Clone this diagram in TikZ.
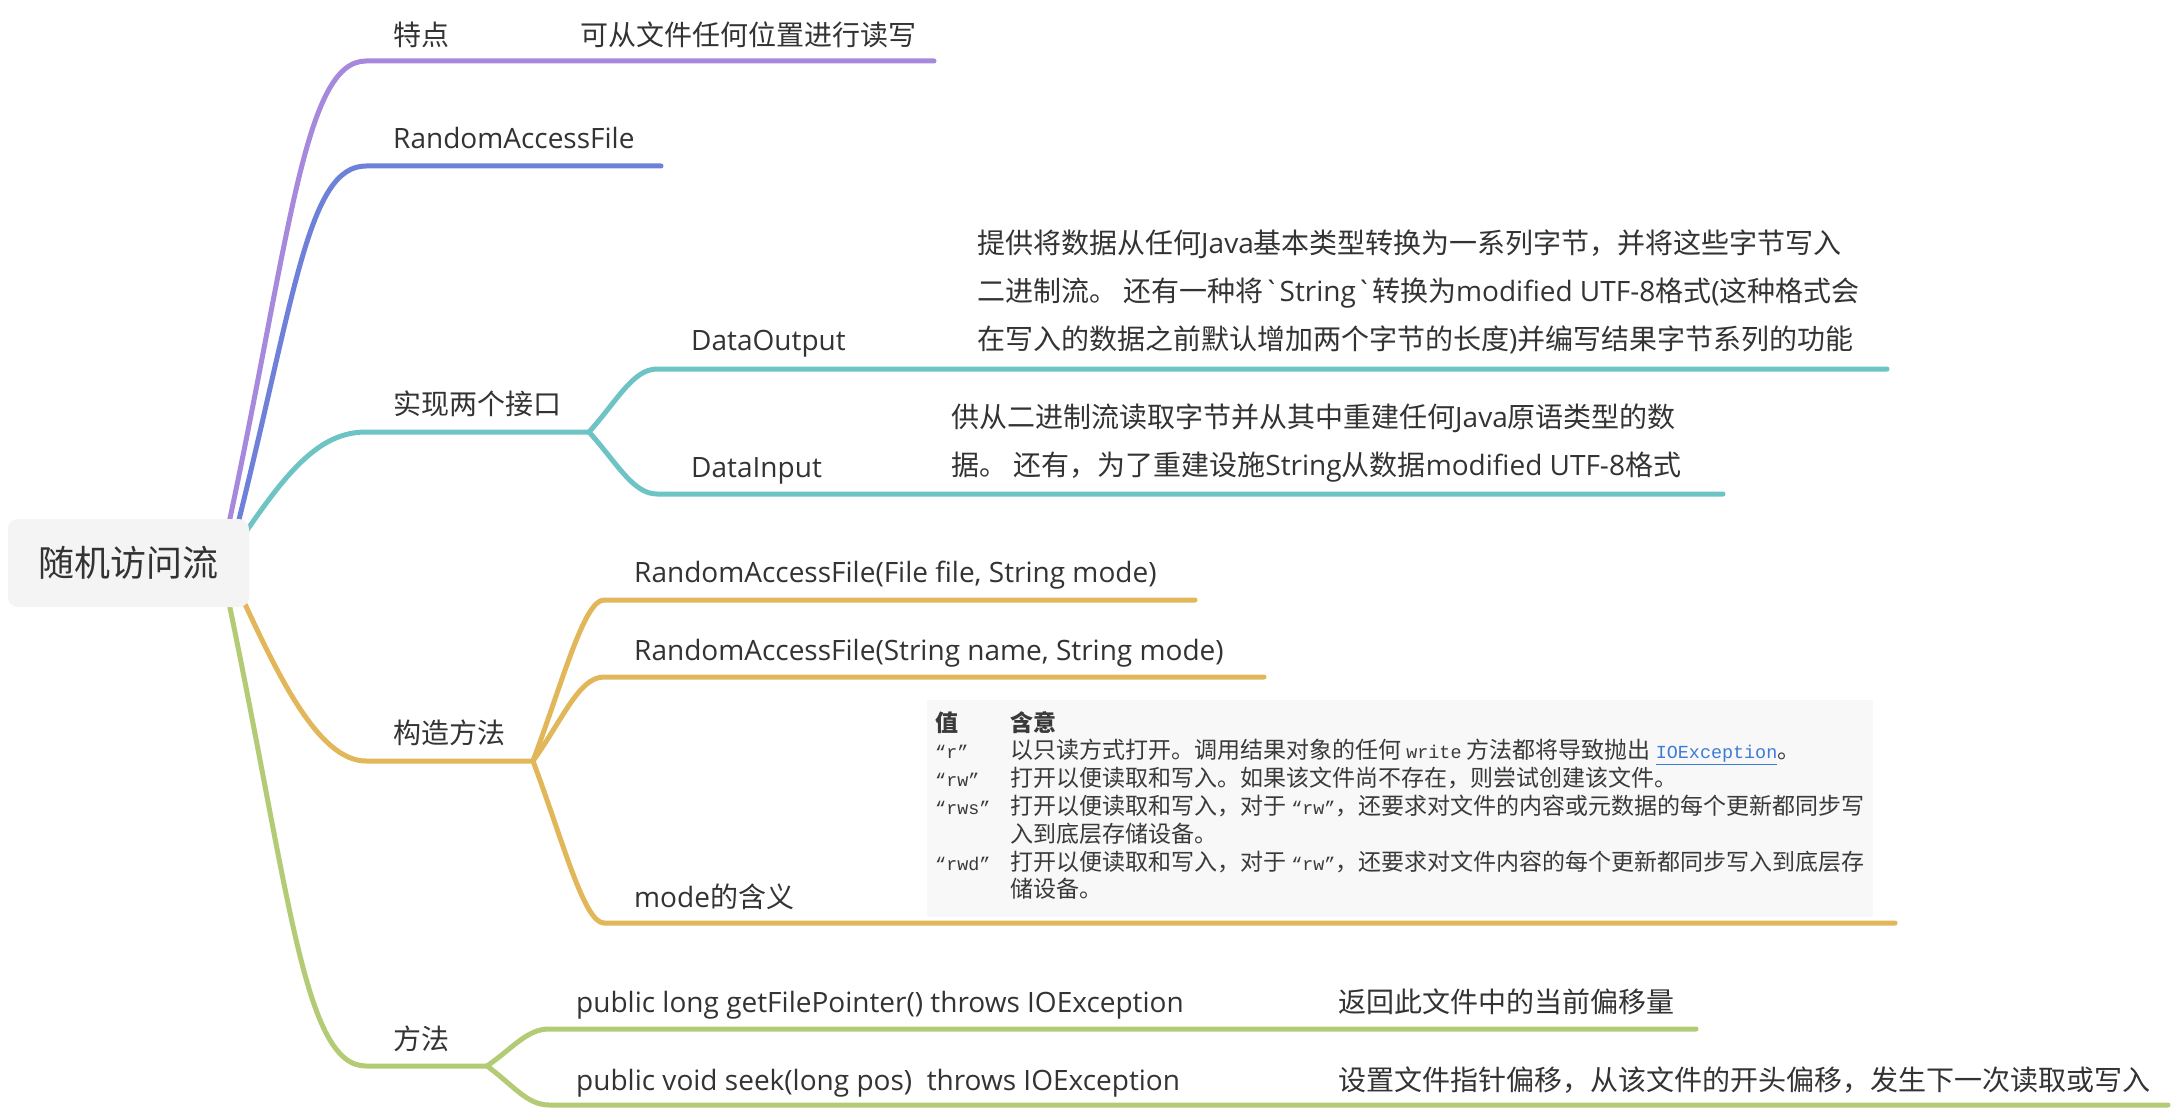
\documentclass[tikz,border=0pt]{standalone}
\usepackage{fontspec}
\setmainfont{Noto Sans CJK SC}
\newfontfamily\latin{Open Sans}
\setmonofont{Liberation Mono}[Scale=0.8]
\usepackage{tikz}
\usetikzlibrary{positioning, backgrounds, calc}
\definecolor{ink}{HTML}{333333}
\definecolor{feat}{HTML}{A689DC}
\definecolor{cls}{HTML}{6F80D9}
\definecolor{iface}{HTML}{6EC4C4}
\definecolor{ctor}{HTML}{E1B75A}
\definecolor{meth}{HTML}{B4CB75}
\definecolor{rootgray}{HTML}{F4F4F4}
\definecolor{tabgray}{HTML}{F8F8F8}
\definecolor{tabink}{HTML}{3A3A3A}
\definecolor{link}{HTML}{3D7CD6}

\begin{document}
\begin{tikzpicture}[x=1pt, y=-1pt,
  branch/.style={line width=5pt, line cap=round},
  rootbox/.style={fill=rootgray, rounded corners=10pt, minimum width=241pt,
    minimum height=88pt, inner sep=0pt, text=ink,
    font=\fontsize{36}{43}\selectfont, text height=30pt, text depth=3pt},
  topic/.style={anchor=west, inner sep=0pt, text=ink,
    font=\fontsize{28}{34}\selectfont, text height=23pt, text depth=2pt},
  ltopic/.style={topic, font=\fontsize{28}{34}\selectfont\latin},
  note/.style={anchor=west, inner sep=0pt, align=left, text=ink,
    font=\fontsize{28}{48}\selectfont},
  tabbox/.style={anchor=north west, fill=tabgray, inner xsep=8pt,
    inner ysep=11pt, text=tabink, font=\fontsize{23}{27.7}\selectfont}
]
  \useasboundingbox (0,0) rectangle (2176,1110);

  % root
  \node[rootbox] (root) at (128.5,563) {随机访问流};

  % underline ends, first level
  \coordinate (featL) at (366,61);    \coordinate (featR) at (934,61);
  \coordinate (clsL) at (366,166);    \coordinate (clsR) at (661,166);
  \coordinate (ifL) at (366,432);     \coordinate (ifR) at (589,432);
  \coordinate (ctorL) at (366,761);   \coordinate (ctorR) at (533,761);
  \coordinate (methL) at (366,1066);  \coordinate (methR) at (487,1066);
  % underline ends, second level
  \coordinate (outL) at (657,369);    \coordinate (outR) at (1887,369);
  \coordinate (inL) at (657,494);     \coordinate (inR) at (1723,494);
  \coordinate (fileL) at (604,600);   \coordinate (fileR) at (1195,600);
  \coordinate (nameL) at (604,677);   \coordinate (nameR) at (1264,677);
  \coordinate (modeL) at (604,923);   \coordinate (modeR) at (1895,923);
  \coordinate (ptrL) at (549,1029);   \coordinate (ptrR) at (1696,1029);
  \coordinate (seekL) at (549,1105);  \coordinate (seekR) at (2168,1105);

  % Features
  \node[topic] (featT) at (393,35) {特点};
  \node[topic] (featD) at (580,35) {可从文件任何位置进行读写};
  \node[ltopic] (clsT) at (393,138) {RandomAccessFile};

  % Interfaces
  \node[topic] (ifT) at (393,404) {实现两个接口};
  \node[ltopic] (outT) at (691,340) {DataOutput};
  \node[note] (outD) at (977,292)
    {提供将数据从任何{\latin Java}基本类型转换为一系列字节，并将这些字节写入\\
     二进制流。 还有一种将{\latin `String`}转换为{\latin modified UTF-8}格式{\latin (}这种格式会\\
     在写入的数据之前默认增加两个字节的长度{\latin )}并编写结果字节系列的功能};
  \node[ltopic] (inT) at (691,467) {DataInput};
  \node[note] (inD) at (951,443.5)
    {供从二进制流读取字节并从其中重建任何{\latin Java}原语类型的数\\
     据。 还有，为了重建设施{\latin String}从数据{\latin modified UTF-8}格式};

  % Constructors
  \node[topic] (ctorT) at (393,733) {构造方法};
  \node[ltopic] (fileT) at (634,572) {RandomAccessFile(File file, String mode)};
  \node[ltopic] (nameT) at (634,650) {RandomAccessFile(String name, String mode)};
  \node[topic] (modeT) at (634,897) {{\latin mode}的含义};
  \node[tabbox] (modeTab) at (927,700) {%
    \begin{tabular}{@{}p{75pt}@{}l@{}}
      \bfseries 值 & \bfseries 含意\\
      \ttfamily “r” & 以只读方式打开。调用结果对象的任何 {\ttfamily write} 方法都将导致抛出 \textcolor{link}{\underline{\ttfamily IOException}}。\\
      \ttfamily “rw” & 打开以便读取和写入。如果该文件尚不存在，则尝试创建该文件。\\
      \ttfamily “rws” & 打开以便读取和写入，对于 {\ttfamily “rw”}，还要求对文件的内容或元数据的每个更新都同步写\\
       & 入到底层存储设备。\\
      \ttfamily “rwd” & 打开以便读取和写入，对于 {\ttfamily “rw”}，还要求对文件内容的每个更新都同步写入到底层存\\
       & 储设备。
    \end{tabular}};

  % Methods
  \node[topic] (methT) at (393,1039) {方法};
  \node[ltopic] (ptrT) at (576,1002) {public long getFilePointer() throws IOException};
  \node[topic] (ptrD) at (1338,1002) {返回此文件中的当前偏移量};
  \node[ltopic] (seekT) at (576,1080) {public void seek(long pos)\ \ throws IOException};
  \node[topic] (seekD) at (1338,1080) {设置文件指针偏移，从该文件的开头偏移，发生下一次读取或写入};

  \begin{scope}[on background layer]
    \fill[white] (0,0) rectangle (2176,1110);
    % branches out of the root
    \draw[branch, feat] ([xshift=-21pt, yshift=-8pt]root.north east)
      .. controls +(62,-290) and +(-62,0) .. (featL) -- (featR);
    \draw[branch, cls] ([xshift=-12pt, yshift=-8pt]root.north east)
      .. controls +(58,-232) and +(-58,0) .. (clsL) -- (clsR);
    \draw[branch, iface] ([xshift=-6pt, yshift=-17pt]root.north east)
      .. controls +(45,-66) and +(-46,0) .. (ifL) -- (ifR);
    \draw[branch, ctor] ([xshift=-6pt, yshift=7pt]root.south east)
      .. controls +(37,80) and +(-46,0) .. (ctorL) -- (ctorR);
    \draw[branch, meth] ([xshift=-21pt, yshift=8pt]root.south east)
      .. controls +(62,297) and +(-62,0) .. (methL) -- (methR);
    % second level
    \draw[branch, iface] (ifR) .. controls +(28,-31) and +(-24,0) .. (outL) -- (outR);
    \draw[branch, iface] (ifR) .. controls +(28,31) and +(-24,0) .. (inL) -- (inR);
    \draw[branch, ctor] (ctorR) .. controls +(30,-80) and +(-20,0) .. (fileL) -- (fileR);
    \draw[branch, ctor] (ctorR) .. controls +(30,-42) and +(-25,0) .. (nameL) -- (nameR);
    \draw[branch, ctor] (ctorR) .. controls +(30,80) and +(-20,0) .. (modeL) -- (modeR);
    \draw[branch, meth] (methR) .. controls +(26,-18) and +(-22,0) .. (ptrL) -- (ptrR);
    \draw[branch, meth] (methR) .. controls +(26,19) and +(-22,0) .. (seekL) -- (seekR);
  \end{scope}
\end{tikzpicture}
\end{document}
